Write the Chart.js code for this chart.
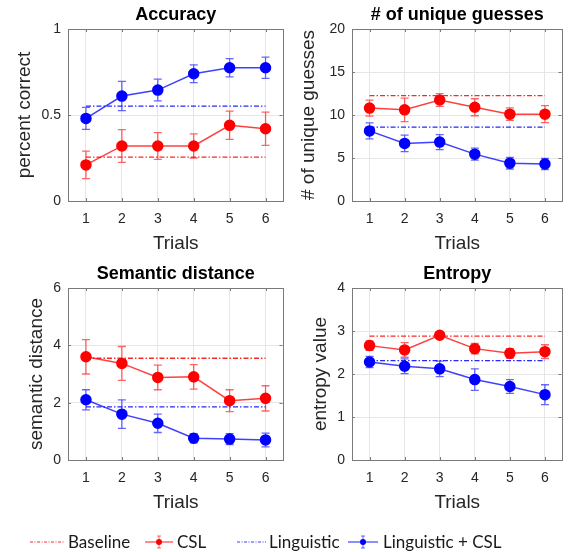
<!DOCTYPE html>
<html>
<head>
  <meta charset="utf-8">
  <script src="https://cdn.jsdelivr.net/npm/chart.js@4.4.1/dist/chart.umd.min.js"></script>
  <style>
    body { margin: 0; background: #fff; }
    #wrap { position: relative; width: 569px; height: 552px; }
    #wrap canvas { position: absolute; }
    .leg { position: absolute; top: 531px; height: 22px; font-family: Lato, "Open Sans", sans-serif; font-size: 17px; color: #1a1a1a; line-height: 22px; white-space: nowrap; }
    .leg svg { position: absolute; top: 0; }
  </style>
</head>
<body>
<div id="wrap">
  <canvas id="c1" width="290" height="260" style="left:0;top:0"></canvas>
  <canvas id="c2" width="285" height="260" style="left:284px;top:0"></canvas>
  <canvas id="c3" width="290" height="260" style="left:0;top:259px"></canvas>
  <canvas id="c4" width="285" height="260" style="left:284px;top:259px"></canvas>

  <!-- shared legend under the four panels -->
  <div class="leg" style="left:30px;width:110px">
    <svg width="36" height="22"><line x1="0" y1="11" x2="35" y2="11" stroke="rgba(255,0,0,0.55)" stroke-width="1.5" stroke-dasharray="3,1.5,1,1.5"/></svg>
    <span style="position:absolute;left:38px">Baseline</span>
  </div>
  <div class="leg" style="left:145px;width:80px">
    <svg width="30" height="22"><line x1="0" y1="11" x2="28" y2="11" stroke="rgba(255,0,0,0.6)" stroke-width="1.5"/><line x1="14" y1="5" x2="14" y2="17" stroke="rgba(255,0,0,0.6)" stroke-width="1"/><line x1="12" y1="5" x2="16" y2="5" stroke="rgba(255,0,0,0.6)"/><line x1="12" y1="17" x2="16" y2="17" stroke="rgba(255,0,0,0.6)"/><circle cx="14" cy="11" r="3" fill="#ff0000"/></svg>
    <span style="position:absolute;left:32px">CSL</span>
  </div>
  <div class="leg" style="left:237px;width:110px">
    <svg width="30" height="22"><line x1="0" y1="11" x2="29" y2="11" stroke="rgba(0,0,255,0.5)" stroke-width="1.5" stroke-dasharray="3,1.5,1,1.5"/></svg>
    <span style="position:absolute;left:32px">Linguistic</span>
  </div>
  <div class="leg" style="left:348px;width:200px">
    <svg width="32" height="22"><line x1="0" y1="11" x2="30" y2="11" stroke="rgba(0,0,255,0.6)" stroke-width="1.5"/><line x1="15" y1="5" x2="15" y2="17" stroke="rgba(0,0,255,0.6)" stroke-width="1"/><line x1="13" y1="5" x2="17" y2="5" stroke="rgba(0,0,255,0.6)"/><line x1="13" y1="17" x2="17" y2="17" stroke="rgba(0,0,255,0.6)"/><circle cx="15" cy="11" r="3" fill="#0000ff"/></svg>
    <span style="position:absolute;left:35px">Linguistic + CSL</span>
  </div>
</div>

<script>
// trials on the x axis
var trials = ['1', '2', '3', '4', '5', '6'];

// Accuracy
var accCsl = [0.21, 0.32, 0.32, 0.32, 0.44, 0.42];
var accCslErr = [0.08, 0.095, 0.078, 0.07, 0.082, 0.097];
var accLingCsl = [0.48, 0.61, 0.645, 0.74, 0.775, 0.775];
var accLingCslErr = [0.064, 0.085, 0.063, 0.052, 0.053, 0.062];
var accBaseline = 0.255;
var accLinguistic = 0.552;

// # of unique guesses
var uniqCsl = [10.8, 10.6, 11.75, 10.9, 10.1, 10.1];
var uniqCslErr = [0.93, 1.36, 0.74, 0.99, 0.72, 0.99];
var uniqLingCsl = [8.15, 6.7, 6.85, 5.45, 4.4, 4.3];
var uniqLingCslErr = [0.93, 0.97, 0.87, 0.7, 0.68, 0.64];
var uniqBaseline = 12.25;
var uniqLinguistic = 8.6;

// Semantic distance
var semCsl = [3.6, 3.37, 2.88, 2.9, 2.07, 2.15];
var semCslErr = [0.6, 0.59, 0.43, 0.43, 0.38, 0.44];
var semLingCsl = [2.1, 1.6, 1.28, 0.76, 0.73, 0.7];
var semLingCslErr = [0.35, 0.5, 0.32, 0.16, 0.19, 0.24];
var semBaseline = 3.55;
var semLinguistic = 1.85;

// Entropy
var entCsl = [2.66, 2.56, 2.9, 2.59, 2.48, 2.52];
var entCslErr = [0.11, 0.17, 0.07, 0.12, 0.11, 0.16];
var entLingCsl = [2.28, 2.18, 2.12, 1.87, 1.71, 1.52];
var entLingCslErr = [0.13, 0.17, 0.18, 0.25, 0.16, 0.23];
var entBaseline = 2.88;
var entLinguistic = 2.31;

Chart.defaults.font.family = '"Liberation Sans", Arial, sans-serif';
Chart.defaults.color = '#262626';

var RED = '#ff0000', BLUE = '#0000ff';

// vertical error bars with caps, drawn under the markers
var errorBars = {
    id: 'errorBars',
    beforeDatasetsDraw: function(chart) {
        var ctx = chart.ctx, y = chart.scales.y;
        chart.data.datasets.forEach(function(ds, i) {
            if (!ds.errors) return;
            var meta = chart.getDatasetMeta(i);
            ctx.save();
            ctx.strokeStyle = ds.errColor;
            ctx.lineWidth = 1.3;
            meta.data.forEach(function(pt, j) {
                var top = y.getPixelForValue(ds.data[j] + ds.errors[j]);
                var bot = y.getPixelForValue(ds.data[j] - ds.errors[j]);
                ctx.beginPath();
                ctx.moveTo(pt.x, top); ctx.lineTo(pt.x, bot);
                ctx.moveTo(pt.x - 4, top); ctx.lineTo(pt.x + 4, top);
                ctx.moveTo(pt.x - 4, bot); ctx.lineTo(pt.x + 4, bot);
                ctx.stroke();
            });
            ctx.restore();
        });
    }
};

// matlab-like box round the axes with small inward ticks
var boxFrame = {
    id: 'boxFrame',
    afterDatasetsDraw: function(chart) {
        var ctx = chart.ctx, a = chart.chartArea;
        ctx.save();
        ctx.strokeStyle = '#7a7a7a';
        ctx.lineWidth = 1;
        ctx.strokeRect(Math.round(a.left) + 0.5, Math.round(a.top) + 0.5,
                       Math.round(a.right - a.left) - 1, Math.round(a.bottom - a.top));
        ctx.beginPath();
        chart.scales.y.ticks.forEach(function(t) {
            var py = Math.round(chart.scales.y.getPixelForValue(t.value)) + 0.5;
            ctx.moveTo(a.left, py); ctx.lineTo(a.left + 3, py);
            ctx.moveTo(a.right - 1, py); ctx.lineTo(a.right - 4, py);
        });
        chart.scales.x.ticks.forEach(function(t, k) {
            var px = Math.round(chart.scales.x.getPixelForTick(k)) + 0.5;
            ctx.moveTo(px, a.bottom); ctx.lineTo(px, a.bottom - 3);
            ctx.moveTo(px, a.top); ctx.lineTo(px, a.top + 3);
        });
        ctx.stroke();
        ctx.restore();
    }
};

function flat(v) {
    return trials.map(function() { return v; });
}

function makeChart(id, title, yTitle, yMax, yStep, yTitlePad, csl, cslErr, lingCsl, lingCslErr, base, ling, rightPad) {
    var ctx = document.getElementById(id).getContext('2d');
    return new Chart(ctx, {
        type: 'line',
        data: {
            labels: trials,
            datasets: [{
                label: 'Baseline',
                data: flat(base),
                borderColor: 'rgba(255,0,0,0.85)',
                borderWidth: 1.3,
                borderDash: [5, 2, 1.5, 2],
                pointRadius: 0,
                order: 3
            }, {
                label: 'Linguistic',
                data: flat(ling),
                borderColor: 'rgba(0,0,255,0.85)',
                borderWidth: 1.3,
                borderDash: [5, 2, 1.5, 2],
                pointRadius: 0,
                order: 3
            }, {
                label: 'CSL',
                data: csl,
                errors: cslErr,
                errColor: 'rgba(255,0,0,0.6)',
                borderColor: 'rgba(255,0,0,0.75)',
                backgroundColor: RED,
                pointBorderColor: RED,
                borderWidth: 1.5,
                pointRadius: 5,
                order: 1
            }, {
                label: 'Linguistic + CSL',
                data: lingCsl,
                errors: lingCslErr,
                errColor: 'rgba(0,0,255,0.6)',
                borderColor: 'rgba(0,0,255,0.75)',
                backgroundColor: BLUE,
                pointBorderColor: BLUE,
                borderWidth: 1.5,
                pointRadius: 5,
                order: 1
            }]
        },
        options: {
            responsive: false,
            animation: false,
            devicePixelRatio: 1,
            layout: { padding: { left: 0, top: 0, right: rightPad, bottom: 4 } },
            plugins: {
                legend: { display: false },
                tooltip: { enabled: false },
                title: {
                    display: true,
                    text: title,
                    color: '#000',
                    fullSize: false,
                    font: { size: 18, weight: 'bold' },
                    padding: { top: 4, bottom: 3.4 }
                }
            },
            scales: {
                x: {
                    offset: true,
                    grid: { color: '#e6e6e6', drawTicks: false },
                    border: { display: false },
                    ticks: { padding: 10, font: { size: 14 } },
                    title: { display: true, text: 'Trials', font: { size: 19 }, padding: { top: 0, bottom: 1 } },
                    afterFit: function(s) { s.height = 55; }
                },
                y: {
                    min: 0,
                    max: yMax,
                    grid: { color: '#e6e6e6', drawTicks: false },
                    border: { display: false },
                    ticks: {
                        stepSize: yStep,
                        padding: 7,
                        font: { size: 14 },
                        callback: function(v) { return String(+v.toFixed(2)); }
                    },
                    title: { display: true, text: yTitle, font: { size: 19 }, padding: { top: yTitlePad, bottom: 0 } },
                    afterFit: function(s) { s.width = 68; }
                }
            }
        },
        plugins: [errorBars, boxFrame]
    });
}

makeChart('c1', 'Accuracy', 'percent correct', 1, 0.5, 13,
    accCsl, accCslErr, accLingCsl, accLingCslErr, accBaseline, accLinguistic, 6);
makeChart('c2', '# of unique guesses', '# of unique guesses', 20, 5, 13,
    uniqCsl, uniqCslErr, uniqLingCsl, uniqLingCslErr, uniqBaseline, uniqLinguistic, 1);
makeChart('c3', 'Semantic distance', 'semantic distance', 6, 2, 25,
    semCsl, semCslErr, semLingCsl, semLingCslErr, semBaseline, semLinguistic, 6);
makeChart('c4', 'Entropy', 'entropy value', 4, 1, 25,
    entCsl, entCslErr, entLingCsl, entLingCslErr, entBaseline, entLinguistic, 1);
</script>
</body>
</html>
